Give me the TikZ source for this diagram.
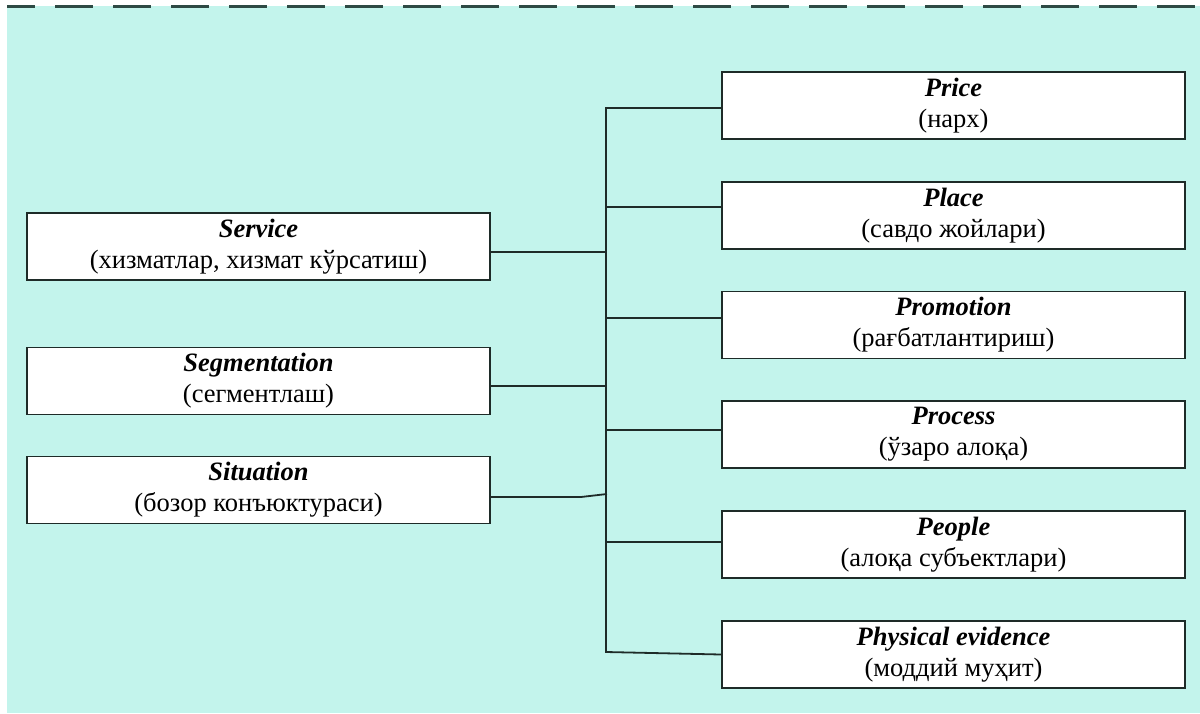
\documentclass[tikz,border=0pt]{standalone}
\usepackage{fontspec}
\setmainfont{Liberation Serif}
\usepackage{xcolor}
\usetikzlibrary{positioning}
\definecolor{bgc}{HTML}{C3F4EC}
\definecolor{lnc}{HTML}{1E2B28}
\definecolor{dshc}{HTML}{2E4A44}
\begin{document}
\begin{tikzpicture}[x=1pt, y=-1pt,
    every node/.style={font=\fontsize{26.5}{31}\selectfont},
    sb/.style={draw=lnc, line width=1.9pt, fill=white, align=center, inner sep=0pt, minimum width=463pt, minimum height=67pt},
    ln/.style={draw=lnc, line width=1.8pt},
    dl/.style={draw=dshc, line width=2.4pt, dash pattern=on 38pt off 20pt, dash phase=10pt}
]
\def\hd#1{\textbf{\textit{#1}}\\}
\useasboundingbox (0,0) rectangle (1200,713);
\fill[bgc] (7,6) rectangle (1200,713);
\draw[dl] (7,6.5) -- (1200,6.5);
% left column
\node[sb] (serv) at (258.5,246.5) {\hd{Service}(хизматлар, хизмат кўрсатиш)};
\node[sb] (segm) at (258.5,381)   {\hd{Segmentation}(сегментлаш)};
\node[sb] (situ) at (258.5,490)   {\hd{Situation}(бозор конъюктураси)};
% right column
\node[sb] (price) at (953.5,105.5) {\hd{Price}(нарх)};
\node[sb] (place) at (953.5,215.5) {\hd{Place}(савдо жойлари)};
\node[sb] (promo) at (953.5,325)   {\hd{Promotion}(рағбатлантириш)};
\node[sb] (proc)  at (953.5,434.5) {\hd{Process}(ўзаро алоқа)};
\node[sb] (peop)  at (953.5,544.5) {\hd{People}(алоқа субъектлари)};
\node[sb] (phys)  at (953.5,654.5) {\hd{Physical evidence}(моддий муҳит)};
\coordinate (bustop) at (606,108);
\coordinate (busbot) at (606,652);
\draw[ln] ([yshift=-2.5pt]price.west) -- (bustop) -- (busbot) -- (phys.west);
\draw[ln] ([yshift=8.5pt]place.west) -- ++(-116,0);
\draw[ln] ([yshift=7pt]promo.west) -- ++(-116,0);
\draw[ln] ([yshift=4.5pt]proc.west) -- ++(-116,0);
\draw[ln] ([yshift=2.5pt]peop.west) -- ++(-116,0);
\draw[ln] ([yshift=-5.5pt]serv.east) -- ++(116,0);
\draw[ln] ([yshift=-5pt]segm.east) -- ++(116,0);
\draw[ln] ([yshift=-7pt]situ.east) -- ++(90,0) -- ++(26,-3);
\end{tikzpicture}
\end{document}
